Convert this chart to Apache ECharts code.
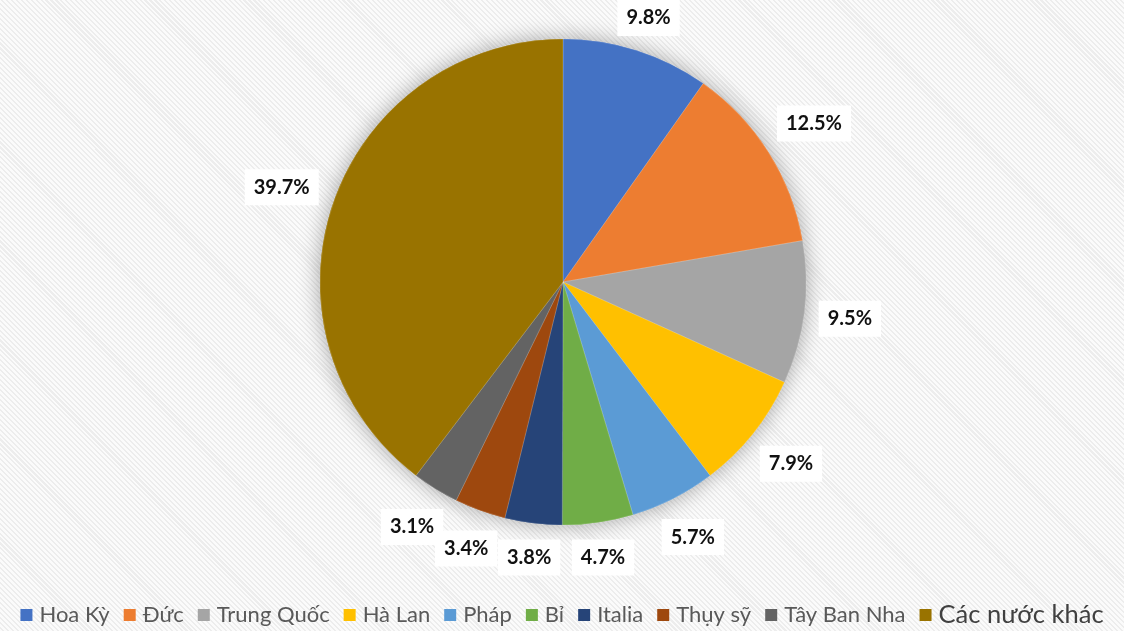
<!DOCTYPE html>
<html>
<head>
<meta charset="utf-8">
<script src="https://cdn.jsdelivr.net/npm/echarts@6/dist/echarts.min.js"></script>
<style>
  html, body { margin: 0; padding: 0; }
  body {
    width: 1124px; height: 631px;
    background: repeating-linear-gradient(45deg, #fbfbfb 0px, #fbfbfb 2px, #ededed 2px, #ededed 3.5px);
  }
  #chart { width: 1124px; height: 631px; }
</style>
</head>
<body>
<div id="chart"></div>
<script>
// 数据
const countries = ["Hoa Kỳ", "Đức", "Trung Quốc", "Hà Lan", "Pháp", "Bỉ", "Italia", "Thụy sỹ", "Tây Ban Nha", "Các nước khác"];
const shares = [9.8, 12.5, 9.5, 7.9, 5.7, 4.7, 3.8, 3.4, 3.1, 39.7];
const colors = ["#4472C4", "#ED7D31", "#A5A5A5", "#FFC000", "#5B9BD5", "#70AD47", "#264478", "#9E480E", "#636363", "#997300"];

const pieData = countries.map((name, i) => ({ name: name, value: shares[i] }));

// 饼图位置
const pieCenter = [563, 282];
const pieRadius = 243;
const labelGap = 13;

// 每个扇区的中间角度（从正上方顺时针）
const total = shares.reduce((a, b) => a + b, 0);
const midAngles = [];
let acc = 0;
shares.forEach((v) => {
  midAngles.push(((acc + v / 2) / total) * Math.PI * 2);
  acc += v;
});

const myChart = echarts.init(document.getElementById("chart"));

const option = {
  backgroundColor: "transparent",
  color: colors,
  animation: false,
  legend: {
    bottom: -2,
    left: "center",
    itemWidth: 12,
    itemHeight: 12,
    itemGap: 14,
    icon: "rect",
    textStyle: {
      color: "#595959",
      fontSize: 22,
      fontFamily: "Lato",
      padding: [0, 0, 0, 2],
    },
    data: countries.map((n, i) =>
      i === countries.length - 1
        ? { name: n, textStyle: { fontSize: 25.5, color: "#404040" } }
        : n
    ),
  },
  series: [
    // 阴影层
    {
      type: "pie",
      silent: true,
      z: 1,
      center: pieCenter,
      radius: pieRadius,
      startAngle: 90,
      clockwise: true,
      label: { show: false },
      labelLine: { show: false },
      legendHoverLink: false,
      itemStyle: {
        shadowBlur: 22,
        shadowColor: "rgba(0,0,0,0.35)",
      },
      data: pieData,
    },
    {
      type: "pie",
      z: 2,
      center: pieCenter,
      radius: pieRadius,
      startAngle: 90,
      clockwise: true,
      avoidLabelOverlap: false,
      itemStyle: {
        borderColor: "rgba(255,255,255,0.35)",
        borderWidth: 0.5,
      },
      label: {
        show: true,
        position: "outside",
        formatter: (p) => p.value.toFixed(1) + "%",
        color: "#111",
        fontSize: 20,
        fontWeight: "bold",
        fontFamily: "Lato",
        backgroundColor: "#ffffff",
        padding: [8, 9, 8, 9],
      },
      labelLine: { show: false },
      // 标签放在扇区外端，居中，不超出画布顶部
      labelLayout: (params) => {
        const a = midAngles[params.dataIndex];
        const s = Math.sin(a);
        const c = Math.cos(a);
        const w = params.labelRect.width;
        const h = params.labelRect.height;
        const d = pieRadius + labelGap + (Math.abs(s) * w) / 2 + (Math.abs(c) * h) / 2;
        return {
          x: pieCenter[0] + d * s,
          y: Math.max(h / 2, pieCenter[1] - d * c),
          align: "center",
          verticalAlign: "middle",
        };
      },
      data: pieData,
    },
  ],
};

option && myChart.setOption(option);
</script>
</body>
</html>
